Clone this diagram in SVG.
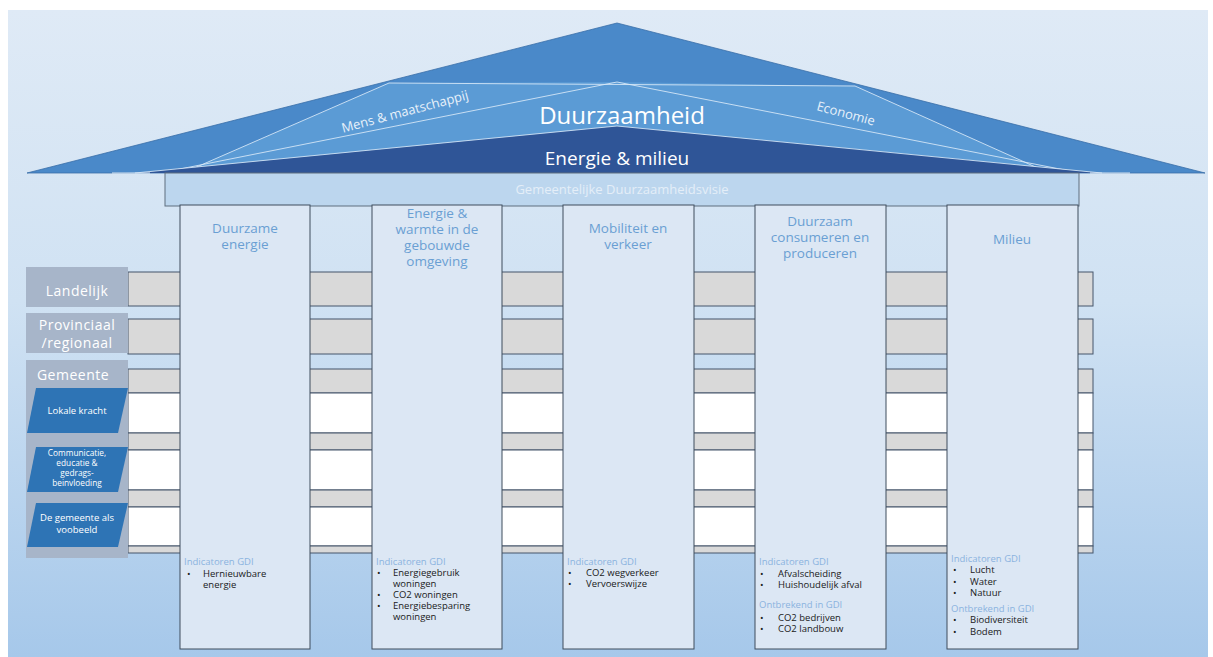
<svg xmlns="http://www.w3.org/2000/svg" width="1213" height="657" viewBox="0 0 1213 657">
<defs>
<linearGradient id="bg" x1="0" y1="0" x2="0" y2="1">
<stop offset="0" stop-color="#dfeaf6"/>
<stop offset="0.45" stop-color="#d0e2f3"/>
<stop offset="1" stop-color="#a6c8ea"/>
</linearGradient>
<style>
.t{font-family:"Open Sans","Noto Sans","Liberation Sans",sans-serif}
.col{fill:#dce7f4;stroke:#3e4c5c;stroke-width:1}
.hd{font-size:13.5px;fill:#6a9fd3;text-anchor:middle}
.ind{font-size:9.5px;fill:#8bb3df}
.bl{font-size:9.5px;fill:#1a1a1a}
.lab{fill:#a7b5c9}
.labt{font-size:14px;fill:#ffffff;text-anchor:middle;letter-spacing:0.5px}
.par{fill:#2e74b5}
.part{font-size:9.5px;fill:#ffffff;text-anchor:middle}
.ps{font-size:8.3px}
.gray{fill:#d9d9d9;stroke:#44546a;stroke-width:1}
.white{fill:#ffffff;stroke:#44546a;stroke-width:1}
.wl{stroke:#dbeaf8;stroke-width:1;fill:none;opacity:0.85}
</style>
</defs>
<rect x="0" y="0" width="1213" height="657" fill="#ffffff"/>
<rect x="8" y="10" width="1200" height="647" fill="url(#bg)"/>

<g id="roof">
<polygon points="27,173 617,23 1205,173" fill="#4a89c9" stroke="#3a6ea8" stroke-width="0.8"/>
<polygon points="389,83 617,82 855,86 1040,169 1110,173 125,173 192,169" fill="#5b9bd5"/>
<line class="wl" x1="389" y1="83" x2="855" y2="86"/>
<line class="wl" x1="389" y1="83" x2="192" y2="169"/>
<line class="wl" x1="855" y1="86" x2="1040" y2="169"/>
<line class="wl" x1="617" y1="82" x2="165" y2="172"/>
<line class="wl" x1="617" y1="82" x2="1075" y2="172"/>
<polygon points="135,173 617,126 1102,173" fill="#2f5597"/>
<polyline class="wl" points="135,173 617,126 1102,173"/>
<line x1="112" y1="173" x2="150" y2="173" stroke="#dbeaf8" stroke-width="1.2"/>
<line x1="1090" y1="173" x2="1130" y2="173" stroke="#dbeaf8" stroke-width="1.2"/>
<text class="t" x="405" y="116" font-size="13" fill="#e8f1fa" text-anchor="middle" transform="rotate(-15 405 112)">Mens &amp; maatschappij</text>
<text class="t" x="846" y="118" font-size="13" fill="#e8f1fa" text-anchor="middle" transform="rotate(15 846 113)">Economie</text>
<text class="t" x="622" y="124" font-size="24" fill="#ffffff" text-anchor="middle">Duurzaamheid</text>
<text class="t" x="617" y="165" font-size="19" fill="#ffffff" text-anchor="middle">Energie &amp; milieu</text>
</g>

<g id="visie">
<rect x="165" y="173" width="914" height="33" fill="#bcd6ee" stroke="#5f6e7e" stroke-width="1"/>
<text class="t" x="622" y="194" font-size="13" fill="#e4eef8" text-anchor="middle">Gemeentelijke Duurzaamheidsvisie</text>
</g>

<g id="bands">
<rect class="gray" x="128" y="272" width="965" height="34"/>
<rect class="gray" x="128" y="319" width="965" height="35"/>
<rect class="gray" x="128" y="369" width="965" height="24"/>
<rect class="white" x="128" y="393" width="965" height="40"/>
<rect class="gray" x="128" y="433" width="965" height="17"/>
<rect class="white" x="128" y="450" width="965" height="40"/>
<rect class="gray" x="128" y="490" width="965" height="17"/>
<rect class="white" x="128" y="507" width="965" height="39"/>
<rect class="gray" x="128" y="546" width="965" height="7"/>
</g>

<g id="level-landelijk">
<rect class="lab" x="26" y="267" width="102" height="40"/>
<text class="t labt" x="77" y="296">Landelijk</text>
</g>
<g id="level-provinciaal">
<rect class="lab" x="26" y="313" width="102" height="40"/>
<text class="t labt" x="77" y="330">Provinciaal</text>
<text class="t labt" x="77" y="348">/regionaal</text>
</g>
<g id="level-gemeente">
<rect class="lab" x="26" y="360" width="102" height="198"/>
<text class="t labt" x="73" y="380">Gemeente</text>
</g>
<g id="lokale-kracht">
<polygon class="par" points="36,388 128,388 118,433 27,433"/>
<text class="t part" x="77" y="414">Lokale kracht</text>
</g>
<g id="communicatie">
<polygon class="par" points="36,447 128,447 118,492 27,492"/>
<text class="t part ps" x="77" y="456">Communicatie,</text>
<text class="t part ps" x="77" y="466">educatie &amp;</text>
<text class="t part ps" x="77" y="476">gedrags-</text>
<text class="t part ps" x="77" y="486">beinvloeding</text>
</g>
<g id="voorbeeld">
<polygon class="par" points="36,503 128,503 118,547 27,547"/>
<text class="t part" x="77" y="521">De gemeente als</text>
<text class="t part" x="77" y="533">voobeeld</text>
</g>

<g id="col-duurzame-energie">
<rect class="col" x="180" y="205" width="130" height="444"/>
<text class="t hd" x="245" y="233">Duurzame</text>
<text class="t hd" x="245" y="249">energie</text>
<text class="t ind" x="184" y="565">Indicatoren GDI</text>
<text class="t bl" x="187" y="577">•</text>
<text class="t bl" x="203" y="577">Hernieuwbare</text>
<text class="t bl" x="203" y="588">energie</text>
</g>

<g id="col-energie-warmte">
<rect class="col" x="372" y="205" width="130" height="444"/>
<text class="t hd" x="437" y="218">Energie &amp;</text>
<text class="t hd" x="437" y="234">warmte in de</text>
<text class="t hd" x="437" y="250">gebouwde</text>
<text class="t hd" x="437" y="266">omgeving</text>
<text class="t ind" x="376" y="565">Indicatoren GDI</text>
<text class="t bl" x="377" y="576">•</text>
<text class="t bl" x="393" y="576">Energiegebruik</text>
<text class="t bl" x="393" y="587">woningen</text>
<text class="t bl" x="377" y="598">•</text>
<text class="t bl" x="393" y="598">CO2 woningen</text>
<text class="t bl" x="377" y="609">•</text>
<text class="t bl" x="393" y="609">Energiebesparing</text>
<text class="t bl" x="393" y="620">woningen</text>
</g>

<g id="col-mobiliteit">
<rect class="col" x="563" y="205" width="131" height="444"/>
<text class="t hd" x="628" y="233">Mobiliteit en</text>
<text class="t hd" x="628" y="249">verkeer</text>
<text class="t ind" x="567" y="565">Indicatoren GDI</text>
<text class="t bl" x="568" y="576">•</text>
<text class="t bl" x="586" y="576">CO2 wegverkeer</text>
<text class="t bl" x="568" y="587">•</text>
<text class="t bl" x="586" y="587">Vervoerswijze</text>
</g>

<g id="col-consumeren">
<rect class="col" x="755" y="205" width="131" height="444"/>
<text class="t hd" x="820" y="226">Duurzaam</text>
<text class="t hd" x="820" y="242">consumeren en</text>
<text class="t hd" x="820" y="258">produceren</text>
<text class="t ind" x="759" y="565">Indicatoren GDI</text>
<text class="t bl" x="760" y="577">•</text>
<text class="t bl" x="778" y="577">Afvalscheiding</text>
<text class="t bl" x="760" y="588">•</text>
<text class="t bl" x="778" y="588">Huishoudelijk afval</text>
<text class="t ind" x="759" y="608">Ontbrekend in GDI</text>
<text class="t bl" x="760" y="621">•</text>
<text class="t bl" x="778" y="621">CO2 bedrijven</text>
<text class="t bl" x="760" y="632">•</text>
<text class="t bl" x="778" y="632">CO2 landbouw</text>
</g>

<g id="col-milieu">
<rect class="col" x="947" y="205" width="131" height="444"/>
<text class="t hd" x="1012" y="244">Milieu</text>
<text class="t ind" x="951" y="562">Indicatoren GDI</text>
<text class="t bl" x="953" y="573">•</text>
<text class="t bl" x="970" y="573">Lucht</text>
<text class="t bl" x="953" y="585">•</text>
<text class="t bl" x="970" y="585">Water</text>
<text class="t bl" x="953" y="596">•</text>
<text class="t bl" x="970" y="596">Natuur</text>
<text class="t ind" x="951" y="612">Ontbrekend in GDI</text>
<text class="t bl" x="953" y="623">•</text>
<text class="t bl" x="970" y="623">Biodiversiteit</text>
<text class="t bl" x="953" y="635">•</text>
<text class="t bl" x="970" y="635">Bodem</text>
</g>
</svg>
